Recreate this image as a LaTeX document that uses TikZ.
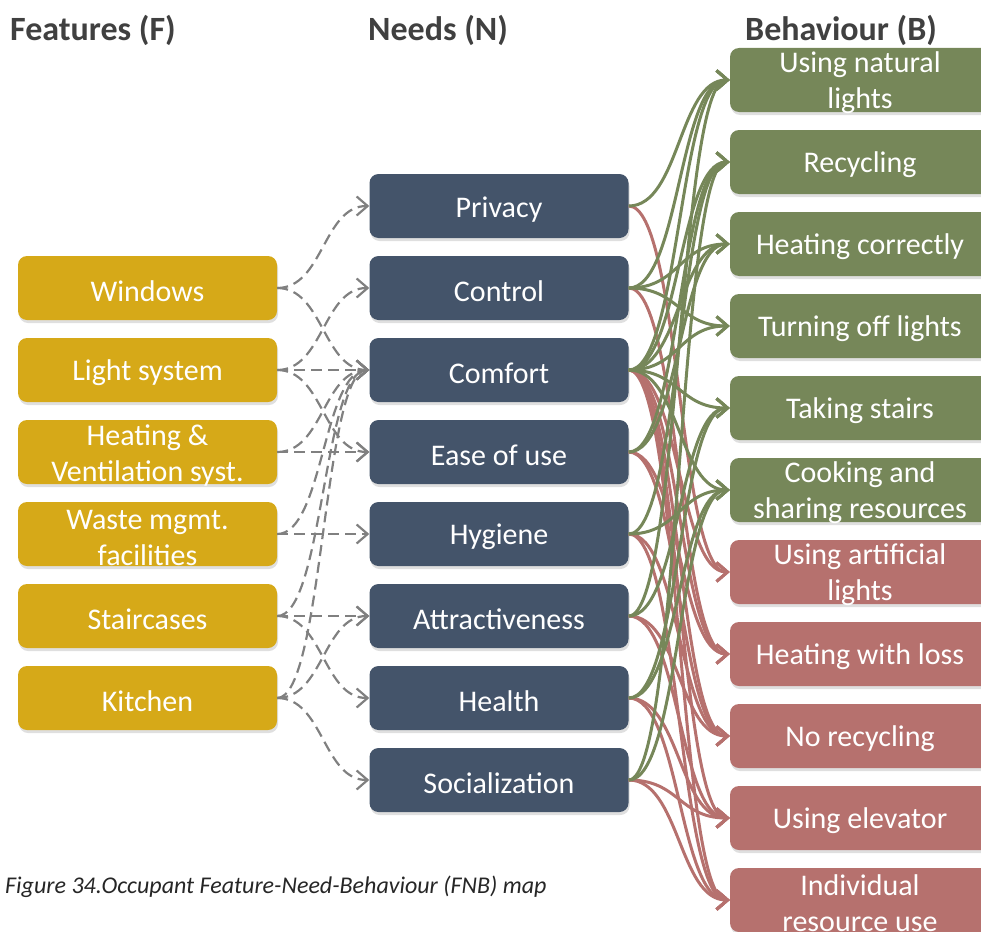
\documentclass[tikz,border=0pt]{standalone}
\usepackage{fontspec}
\setmainfont{Carlito}
\usetikzlibrary{arrows.meta,shadows}
\definecolor{featcol}{RGB}{214,169,24}
\definecolor{needcol}{RGB}{68,84,106}
\definecolor{goodcol}{RGB}{118,135,89}
\definecolor{badcol}{RGB}{182,113,110}
\definecolor{linkcol}{RGB}{128,128,128}
\definecolor{titlecol}{RGB}{64,64,64}
\newcommand{\lift}{\rule{0pt}{27pt}}
\tikzset{
 box/.style={rounded corners=9pt,minimum width=259pt,minimum height=64pt,inner sep=0pt,text=white,align=center,font=\fontsize{30}{36}\selectfont,drop shadow={opacity=.25,shadow xshift=1pt,shadow yshift=-3pt}},
 twoline/.style={inner ysep=-3.5pt},
 feat/.style={box,fill=featcol},
 need/.style={box,fill=needcol},
 good/.style={box,fill=goodcol,minimum width=260pt},
 bad/.style={box,fill=badcol,minimum width=260pt},
 coltitle/.style={anchor=west,inner sep=0pt,text=titlecol,font=\fontsize{34}{40}\selectfont\bfseries},
 fn/.style={to path={.. controls +(46,0) and +(-46,0) .. (\tikztotarget)}},
 nb/.style={to path={.. controls +(51,0) and +(-51,0) .. (\tikztotarget)}},
 fnlink/.style={draw=linkcol,line width=2.2pt,dash pattern=on 11pt off 6pt,-{Straight Barb[length=11pt,width=19pt]},fn},
 poslink/.style={draw=goodcol,line width=3pt,-{Straight Barb[length=11pt,width=19pt]},nb},
 neglink/.style={draw=badcol,line width=3pt,-{Straight Barb[length=11pt,width=19pt]},nb}
}
\begin{document}
\begin{tikzpicture}[x=1pt,y=-1pt]
 \useasboundingbox (0,0) rectangle (981,931);
 \node[coltitle] (ftitle) at (10,30) {Features (F)};
 \node[coltitle] (ntitle) at (368,30) {Needs (N)};
 \node[coltitle] (btitle) at (745,30) {Behaviour (B)};
 % features
 \node[feat] (win) at (147.5,288) {\lift Windows};
 \node[feat] (light) at (147.5,370) {\lift Light system};
 \node[feat,twoline] (heat) at (147.5,452) {\lift Heating \&\\Ventilation syst.};
 \node[feat,twoline] (waste) at (147.5,534) {\lift Waste mgmt.\\facilities};
 \node[feat] (stair) at (147.5,616) {\lift Staircases};
 \node[feat] (kitchen) at (147.5,698) {\lift Kitchen};
 % needs
 \node[need] (privacy) at (499,206) {\lift Privacy};
 \node[need] (control) at (499,288) {\lift Control};
 \node[need] (comfort) at (499,370) {\lift Comfort};
 \node[need] (ease) at (499,452) {\lift Ease of use};
 \node[need] (hygiene) at (499,534) {\lift Hygiene};
 \node[need] (attract) at (499,616) {\lift Attractiveness};
 \node[need] (health) at (499,698) {\lift Health};
 \node[need] (social) at (499,780) {\lift Socialization};
 % behaviour
 \node[good,twoline] (natlight) at (860,80) {\lift Using natural\\lights};
 \node[good] (recycl) at (860,162) {\lift Recycling};
 \node[good] (heatok) at (860,244) {\lift Heating correctly};
 \node[good] (lightoff) at (860,326) {\lift Turning off lights};
 \node[good] (stairs) at (860,408) {\lift Taking stairs};
 \node[good,twoline] (cook) at (860,490) {\lift Cooking and\\sharing resources};
 \node[bad,twoline] (artlight) at (860,572) {\lift Using artificial\\lights};
 \node[bad] (heatloss) at (860,654) {\lift Heating with loss};
 \node[bad] (norecycl) at (860,736) {\lift No recycling};
 \node[bad] (elevator) at (860,818) {\lift Using elevator};
 \node[bad,twoline] (indiv) at (860,900) {\lift Individual\\resource use};
 \node[anchor=west,inner sep=0pt,text=black!85,font=\fontsize{24}{28}\selectfont\itshape] (caption) at (5,887) {Figure 34.Occupant Feature-Need-Behaviour (FNB) map};
 % features to needs
 \draw[fnlink] (win.east) to (privacy.west);
 \draw[fnlink] (win.east) to (comfort.west);
 \draw[fnlink] (light.east) to (control.west);
 \draw[fnlink] (light.east) to (comfort.west);
 \draw[fnlink] (light.east) to (ease.west);
 \draw[fnlink] (heat.east) to (comfort.west);
 \draw[fnlink] (heat.east) to (ease.west);
 \draw[fnlink] (waste.east) to (comfort.west);
 \draw[fnlink] (waste.east) to (hygiene.west);
 \draw[fnlink] (stair.east) to (comfort.west);
 \draw[fnlink] (stair.east) to (attract.west);
 \draw[fnlink] (stair.east) to (health.west);
 \draw[fnlink] (kitchen.east) to (comfort.west);
 \draw[fnlink] (kitchen.east) to (attract.west);
 \draw[fnlink] (kitchen.east) to (social.west);
 % needs to negative behaviour
 \draw[neglink] (privacy.east) to (artlight.west);
 \draw[neglink] (control.east) to (heatloss.west);
 \draw[neglink] (comfort.east) to (artlight.west);
 \draw[neglink] (comfort.east) to (heatloss.west);
 \draw[neglink] (comfort.east) to (norecycl.west);
 \draw[neglink] (comfort.east) to (elevator.west);
 \draw[neglink] (comfort.east) to (indiv.west);
 \draw[neglink] (ease.east) to (heatloss.west);
 \draw[neglink] (ease.east) to (norecycl.west);
 \draw[neglink] (hygiene.east) to (norecycl.west);
 \draw[neglink] (hygiene.east) to (indiv.west);
 \draw[neglink] (attract.east) to (norecycl.west);
 \draw[neglink] (attract.east) to (elevator.west);
 \draw[neglink] (health.east) to (elevator.west);
 \draw[neglink] (health.east) to (indiv.west);
 \draw[neglink] (social.east) to (elevator.west);
 \draw[neglink] (social.east) to (indiv.west);
 % needs to positive behaviour
 \draw[poslink] (privacy.east) to (natlight.west);
 \draw[poslink] (control.east) to (natlight.west);
 \draw[poslink] (control.east) to (heatok.west);
 \draw[poslink] (control.east) to (lightoff.west);
 \draw[poslink] (comfort.east) to (natlight.west);
 \draw[poslink] (comfort.east) to (recycl.west);
 \draw[poslink] (comfort.east) to (heatok.west);
 \draw[poslink] (comfort.east) to (lightoff.west);
 \draw[poslink] (comfort.east) to (stairs.west);
 \draw[poslink] (comfort.east) to (cook.west);
 \draw[poslink] (ease.east) to (recycl.west);
 \draw[poslink] (ease.east) to (heatok.west);
 \draw[poslink] (hygiene.east) to (recycl.west);
 \draw[poslink] (hygiene.east) to (cook.west);
 \draw[poslink] (attract.east) to (natlight.west);
 \draw[poslink] (attract.east) to (stairs.west);
 \draw[poslink] (health.east) to (stairs.west);
 \draw[poslink] (health.east) to (cook.west);
 \draw[poslink] (social.east) to (recycl.west);
 \draw[poslink] (social.east) to (cook.west);
\end{tikzpicture}
\end{document}
